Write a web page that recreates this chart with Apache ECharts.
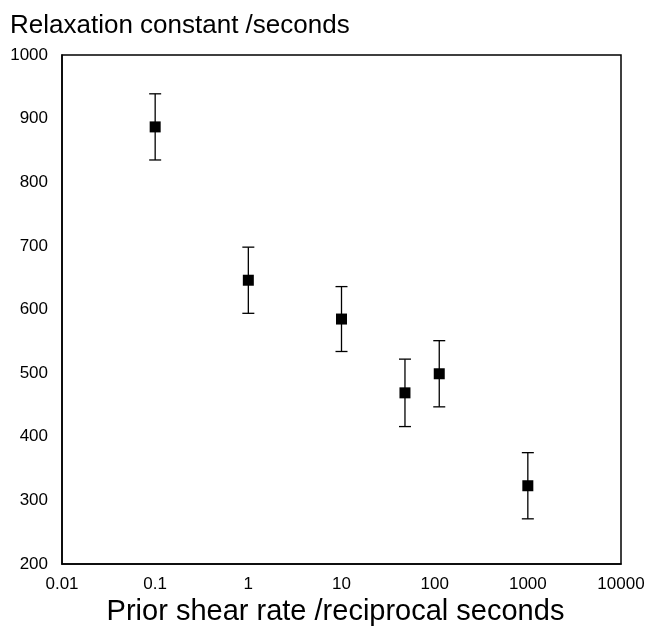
<!DOCTYPE html>
<html>
<head>
<meta charset="utf-8">
<script src="https://cdn.jsdelivr.net/npm/echarts@6/dist/echarts.min.js"></script>
<style>
html,body{margin:0;padding:0;background:#fff;}
#chart{width:649px;height:627px;}
</style>
</head>
<body>
<div id="chart"></div>
<script>
// Data
const shearRate = [0.1, 1, 10, 48, 112, 1000];          // reciprocal seconds
const relaxation = [887, 646, 585, 469, 499, 323];      // seconds
const errorHalf = [52, 52, 51, 53, 52, 52];             // +/- error
const xTickLabels = ['0.01', '0.1', '1', '10', '100', '1000', '10000'];
const yTitle = 'Relaxation constant /seconds';
const xTitle = 'Prior shear rate /reciprocal seconds';

const pts = shearRate.map((x, i) => [x, relaxation[i]]);
const bars = shearRate.map((x, i) => [x, relaxation[i] - errorHalf[i], relaxation[i] + errorHalf[i]]);

const chart = echarts.init(document.getElementById('chart'), null, {renderer: 'canvas'});
const font = 'Liberation Sans, Arial, Helvetica, sans-serif';

chart.setOption({
  animation: false,
  backgroundColor: '#fff',
  title: {
    text: yTitle,
    left: 10,
    top: 13,
    padding: 0,
    textStyle: {fontFamily: font, fontSize: 26, fontWeight: 'normal', color: '#000'}
  },
  grid: {
    left: 62, right: 28, top: 55, bottom: 63,
    outerBoundsMode: 'none',
    show: true, borderColor: '#000', borderWidth: 1.5, containLabel: false
  },
  xAxis: {
    type: 'log',
    logBase: 10,
    min: 0.01,
    max: 10000,
    name: xTitle,
    nameLocation: 'middle',
    nameGap: 28,
    nameTextStyle: {fontFamily: font, fontSize: 29, color: '#000', padding: [0, 12, 0, 0]},
    axisLine: {show: true, lineStyle: {color: '#000', width: 1.5}},
    axisTick: {show: false},
    splitLine: {show: false},
    minorTick: {show: false},
    axisLabel: {
      fontFamily: font, fontSize: 17, color: '#000', margin: 12,
      showMinLabel: true, showMaxLabel: true,
      formatter: function (v) {
        const k = Math.round(Math.log10(v)) + 2;
        return xTickLabels[k] !== undefined ? xTickLabels[k] : '';
      }
    }
  },
  yAxis: {
    type: 'value',
    min: 200,
    max: 1000,
    interval: 100,
    axisLine: {show: true, lineStyle: {color: '#000', width: 1.5}},
    axisTick: {show: false},
    splitLine: {show: false},
    axisLabel: {
      fontFamily: font, fontSize: 17, color: '#000', margin: 14,
      formatter: function (v) { return String(Math.round(v)); }
    }
  },
  series: [
    {
      type: 'custom',
      name: 'error',
      data: bars,
      encode: {x: 0, y: [1, 2]},
      renderItem: function (params, api) {
        const x = api.value(0);
        const lo = api.coord([x, api.value(1)]);
        const hi = api.coord([x, api.value(2)]);
        const hw = 6;
        const style = {stroke: '#000', lineWidth: 1.3};
        return {
          type: 'group',
          children: [
            {type: 'line', shape: {x1: lo[0], y1: lo[1], x2: hi[0], y2: hi[1]}, style: style},
            {type: 'line', shape: {x1: lo[0] - hw, y1: lo[1], x2: lo[0] + hw, y2: lo[1]}, style: style},
            {type: 'line', shape: {x1: hi[0] - hw, y1: hi[1], x2: hi[0] + hw, y2: hi[1]}, style: style}
          ]
        };
      },
      z: 2
    },
    {
      type: 'scatter',
      name: 'Relaxation constant',
      data: pts,
      symbol: 'rect',
      symbolSize: 11,
      itemStyle: {color: '#000', opacity: 1},
      z: 3
    }
  ]
});
</script>
</body>
</html>
